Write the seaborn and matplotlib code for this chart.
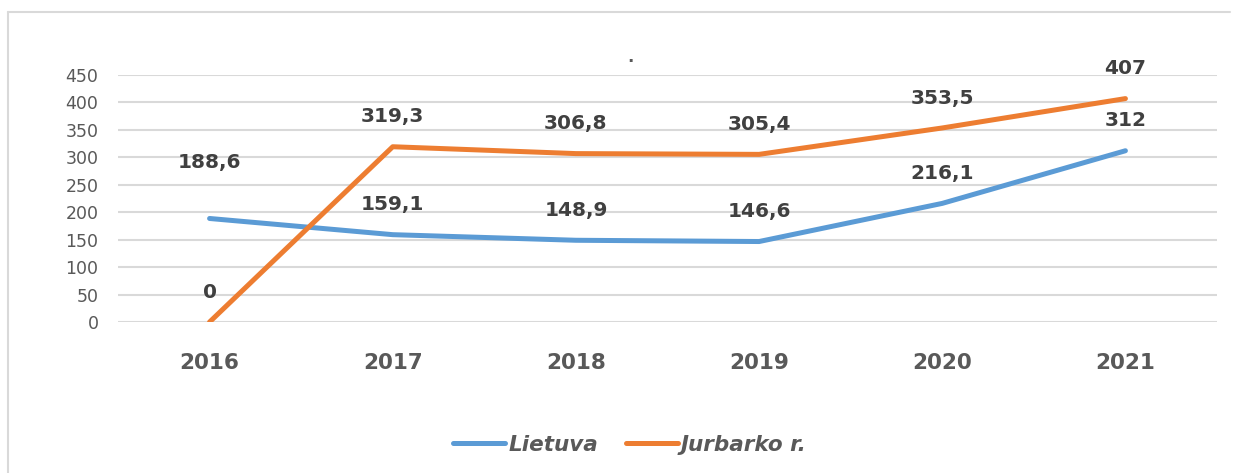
import matplotlib
matplotlib.use("Agg")
import matplotlib.pyplot as plt
import seaborn as sns
import pandas as pd
from matplotlib.lines import Line2D

years = ["2016", "2017", "2018", "2019", "2020", "2021"]
lietuva = [188.6, 159.1, 148.9, 146.6, 216.1, 312]
jurbarko = [0, 319.3, 306.8, 305.4, 353.5, 407]
series_names = ["Lietuva", "Jurbarko r."]
yticks = [0, 50, 100, 150, 200, 250, 300, 350, 400, 450]

colors = {"Lietuva": "#5B9BD5", "Jurbarko r.": "#ED7D31"}

df = pd.DataFrame({
    "x": list(range(len(years))) * 2,
    "value": lietuva + jurbarko,
    "series": [series_names[0]] * len(years) + [series_names[1]] * len(years),
})

sns.set_theme(style="white")
plt.rcParams['font.family'] = ['DejaVu Sans']

fig = plt.figure(figsize=(12.43, 4.73), dpi=100)
ax = fig.add_axes([118 / 1243, 1 - 322 / 473, (1217 - 118) / 1243, (322 - 75) / 473])

sns.lineplot(data=df, x="x", y="value", hue="series", palette=colors,
             linewidth=3.6, ax=ax, legend=False, solid_capstyle="round",
             solid_joinstyle="round")

ax.set_xlim(-0.5, len(years) - 0.5)
ax.set_ylim(0, 450)
ax.set_yticks(yticks)
ax.set_yticklabels([str(t) for t in yticks], color="#595959", fontsize=12.5)
ax.set_xticks(range(len(years)))
ax.set_xticklabels(years, color="#595959", fontsize=15.5, fontweight="bold")
ax.tick_params(axis="x", length=0, pad=22)
ax.tick_params(axis="y", length=0, pad=14)
ax.yaxis.grid(True, color="#D9D9D9", linewidth=1.5)
ax.set_axisbelow(True)
for s in ax.spines.values():
    s.set_visible(False)
ax.set_xlabel("")
ax.set_ylabel("")

def fmt(v):
    if float(v).is_integer():
        return str(int(v))
    return f"{v}".replace(".", ",")

for vals in (lietuva, jurbarko):
    for i, v in enumerate(vals):
        off = 40 if (vals is lietuva and i == 0) else 21.5
        ax.annotate(fmt(v), (i, v), xytext=(0, off), textcoords="offset points",
                    ha="center", va="center", fontsize=14.5, fontweight="bold",
                    color="#404040")

fig.text(630 / 1243, 1 - 57 / 473, ".", ha="center", va="center",
         fontsize=12, fontweight="bold", color="#595959")

handles = [Line2D([0], [0], color=colors[n], lw=3.6, solid_capstyle="round") for n in series_names]
leg = fig.legend(handles, series_names, loc="center", bbox_to_anchor=(630 / 1243, 1 - 445 / 473),
                 ncol=2, frameon=False, handlelength=2.4, handletextpad=0.15,
                 columnspacing=1.3,
                 prop={"size": 15.5, "weight": "bold", "style": "italic"})
for t in leg.get_texts():
    t.set_color("#595959")

# chart border (left and top)
fig.add_artist(Line2D([8 / 1243, 8 / 1243], [0, 1 - 12 / 473], transform=fig.transFigure,
                      color="#D9D9D9", lw=1.5))
fig.add_artist(Line2D([8 / 1243, 1230 / 1243], [1 - 12 / 473, 1 - 12 / 473], transform=fig.transFigure,
                      color="#D9D9D9", lw=1.5))

fig.savefig("out.png", dpi=100, facecolor="white")
